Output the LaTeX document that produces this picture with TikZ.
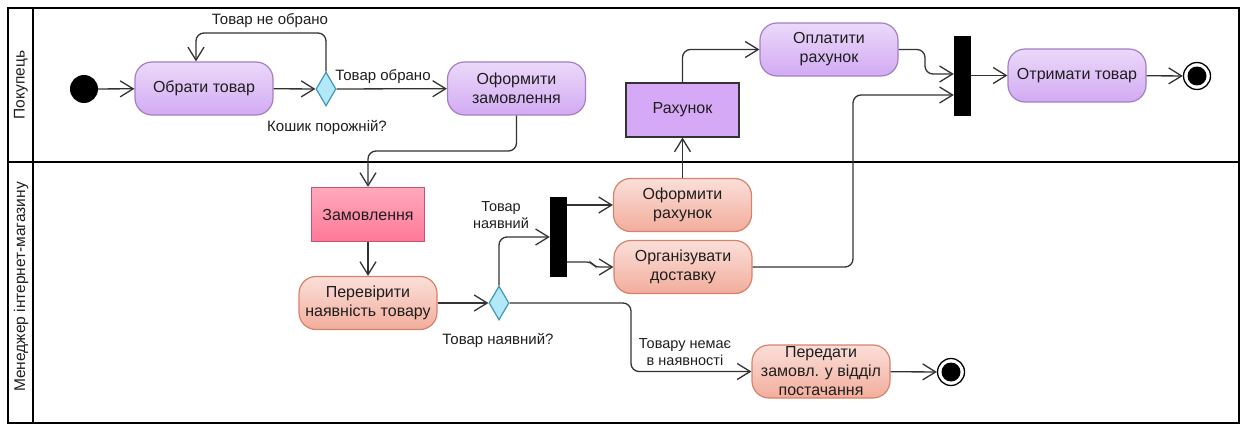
\documentclass[tikz,border=0pt]{standalone}
\usepackage{fontspec}
\setmainfont{Liberation Sans}
\usepackage{xcolor}
\usepackage{tikz}
\usetikzlibrary{arrows.meta,positioning,shapes.geometric}
\definecolor{LilacTop}    {HTML}{EBD9F9}
\definecolor{LilacBottom} {HTML}{D2AAF3}
\definecolor{LilacEdge}   {HTML}{A47FC4}
\definecolor{BillFill}    {HTML}{D5A9F6}
\definecolor{SalmonTop}   {HTML}{FBDFD9}
\definecolor{SalmonBottom}{HTML}{F2AD9C}
\definecolor{SalmonEdge}  {HTML}{D8816C}
\definecolor{PinkTop}     {HTML}{FFA9BD}
\definecolor{PinkBottom}  {HTML}{FF7896}
\definecolor{PinkEdge}    {HTML}{C25572}
\definecolor{CyanFill}    {HTML}{B3E8F8}
\definecolor{CyanEdge}    {HTML}{3F97B8}
\definecolor{FlowLine}    {HTML}{333333}
\definecolor{DarkText}    {HTML}{1E1E1E}

\tikzset{
  actbuyer/.style={rectangle,rounded corners=17pt,minimum width=138pt,minimum height=53pt,
    top color=LilacTop,bottom color=LilacBottom,draw=LilacEdge,line width=1.2pt,
    align=center,inner sep=1pt},
  actmanager/.style={actbuyer,top color=SalmonTop,bottom color=SalmonBottom,draw=SalmonEdge},
  objbox/.style={rectangle,minimum width=113pt,minimum height=54pt,line width=1.2pt},
  decision/.style={diamond,minimum width=20pt,minimum height=34pt,inner sep=0pt,
    fill=CyanFill,draw=CyanEdge,line width=1.2pt},
  forkbar/.style={rectangle,fill=black,minimum width=17pt,minimum height=80pt,inner sep=0pt},
  startdot/.style={circle,fill=black,minimum size=28pt,inner sep=0pt},
  enddot/.style={circle,draw=black,line width=1.3pt,fill=white,minimum size=27pt,inner sep=0pt,
    path picture={\fill[black] (path picture bounding box.center) circle (9.5pt);}},
  flow/.style={draw=FlowLine,line width=1.3pt,rounded corners=8pt,
    -{Straight Barb[length=13pt,width=16pt,line width=1.3pt]}},
  guard/.style={font=\fontsize{15}{17.5}\selectfont,align=center,inner sep=1pt},
  lanetitle/.style={rotate=90,font=\fontsize{15.5}{18}\selectfont}
}

\begin{document}
\begin{tikzpicture}[x=1pt,y=-1pt,font=\fontsize{16}{19}\selectfont,text=DarkText]
  \useasboundingbox (0,0) rectangle (1245,425);

  % swimlanes
  \draw[line width=2.6pt] (8,8) rectangle (1239,423);
  \draw[line width=2.6pt] (8,162) -- (1239,162);
  \draw[line width=2.6pt] (33,8) -- (33,423);
  \node[lanetitle] (laneBuyer) at (21,85) {Покупець};
  \node[lanetitle] (laneManager) at (21,287) {Менеджер інтернет-магазину};

  % buyer lane
  \node[startdot] (start) at (84,89) {};
  \node[actbuyer] (pick) at (204,88.5) {Обрати товар};
  \node[decision] (cartQ) at (326,89) {};
  \node[actbuyer] (order) at (516.5,88.5) {Оформити\\замовлення};
  \node[objbox,fill=BillFill,draw=FlowLine] (bill) at (682.5,110) {Рахунок};
  \node[actbuyer] (pay) at (829,49.5) {Оплатити\\рахунок};
  \node[forkbar] (join) at (962.5,76) {};
  \node[actbuyer] (receive) at (1077,75.5) {Отримати товар};
  \node[enddot] (finish) at (1197,76) {};

  % manager lane
  \node[objbox,top color=PinkTop,bottom color=PinkBottom,draw=PinkEdge] (orderObj) at (368,214.5) {Замовлення};
  \node[actmanager] (check) at (368,303) {Перевірити\\наявність товару};
  \node[decision] (stockQ) at (499,303) {};
  \node[forkbar] (fork) at (558.5,237) {};
  \node[actmanager] (invoice) at (682.5,205) {Оформити\\рахунок};
  \node[actmanager] (deliver) at (683,267) {Організувати\\доставку};
  \node[actmanager] (pass) at (821,371.5) {Передати\\замовл. у відділ\\постачання};
  \node[enddot] (finish2) at (951,372) {};

  % bends
  \coordinate (loopR) at (326,33);
  \coordinate (loopL) at (196,33);
  \coordinate (handoff) at (368,151);
  \coordinate (riseDel) at (853,95);
  \coordinate (dropNo) at (631,303);

  % guards
  \node[guard] (gNotPicked) at (270,21) {Товар не обрано};
  \node[guard] (gPicked) at (383,77) {Товар обрано};
  \node[guard] (gCart) at (327,127) {Кошик порожній?};
  \node[guard] (gStock) at (498,340) {Товар наявний?};
  \node[guard,font=\fontsize{14.5}{17}\selectfont] (gInStock) at (501,215) {Товар\\наявний};
  \node[guard,font=\fontsize{14.5}{17}\selectfont] (gNoStock) at (685,352) {Товару немає\\в наявності};

  % flows
  \draw[flow] (start) -- (pick);
  \draw[flow] (pick) -- (cartQ);
  \draw[flow] (cartQ.north) -- (loopR) -- (loopL) -- (loopL |- pick.north);
  \draw[flow] (cartQ) -- (order);
  \draw[flow] (order.south) |- (handoff) -- (orderObj.north);
  \draw[flow] (orderObj) -- (check);
  \draw[flow] (check) -- (stockQ);
  \draw[flow] (stockQ.north) |- (fork.west);
  \draw[flow] (fork.east |- invoice.west) -- (invoice.west);
  \draw[flow,rounded corners=4pt] (fork.east |- 0,262) -- (591,262) -- (595,267) -- (deliver.west);
  \draw[flow] (invoice.north) -- (bill.south);
  \draw[flow] (bill.north) |- (pay.west);
  \draw[flow] (pay.east) -| (925,74) -- (join.west |- 0,74);
  \draw[flow] (deliver.east) -| (riseDel) -- (join.west |- riseDel);
  \draw[flow] (join.east |- receive.west) -- (receive.west);
  \draw[flow] (receive) -- (finish);
  \draw[flow] (stockQ.east) -- (dropNo) |- (pass.west);
  \draw[flow] (pass) -- (finish2);
\end{tikzpicture}
\end{document}
